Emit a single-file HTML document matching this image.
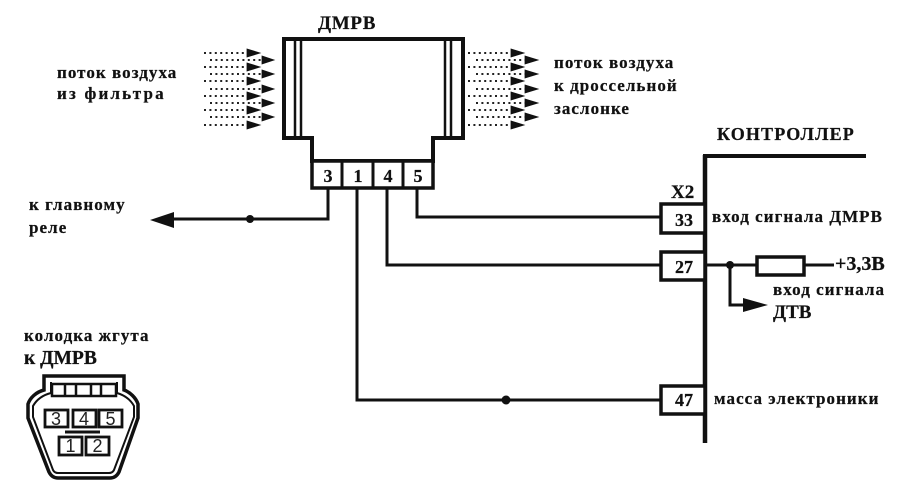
<!DOCTYPE html>
<html><head><meta charset="utf-8"><style>
html,body{margin:0;padding:0;background:#fff;width:902px;height:491px;overflow:hidden}
svg{display:block}
text{font-family:"Liberation Serif",serif;font-weight:bold;fill:#111;stroke:#111;stroke-width:.25}
.l{font-size:17px;letter-spacing:1.05px}
.n{font-size:18px}
.d{stroke:#222;stroke-width:2;stroke-dasharray:2 3.4;fill:none}
.w{stroke:#111;stroke-width:3;fill:none}
.g{font-family:"Liberation Sans",sans-serif;font-weight:normal;font-size:18px;fill:#222;stroke:none}
</style></head><body>
<svg width="902" height="491" viewBox="0 0 902 491" xmlns="http://www.w3.org/2000/svg">
<rect width="902" height="491" fill="#fff"/>
<!-- left flow -->
<g class="d">
<path d="M204 53H248M210 60H262M204 67H248M210 74H262M204 81H248M210 89H262M204 96H248M210 103H262M204 110H248M210 117H262M204 125H248"/>
</g>
<g fill="#111" stroke="#111" stroke-width=".8">
<path d="M247 49L260 53L247 57ZM262 56L274 60L262 64ZM247 63L260 67L247 71ZM262 70L274 74L262 78ZM247 77L260 81L247 85ZM262 85L274 89L262 93ZM247 92L260 96L247 100ZM262 99L274 103L262 107ZM247 106L260 110L247 114ZM262 113L274 117L262 121ZM247 121L260 125L247 129Z"/>
</g>
<!-- right flow -->
<g class="d">
<path d="M468 53H512M476 60H526M468 67H512M476 74H526M468 81H512M476 89H526M468 96H512M476 103H526M468 110H512M476 117H526M468 125H512"/>
</g>
<g fill="#111" stroke="#111" stroke-width=".8">
<path d="M511 49L524 53L511 57ZM525 56L538 60L525 64ZM511 63L524 67L511 71ZM525 70L538 74L525 78ZM511 77L524 81L511 85ZM525 85L538 89L525 93ZM511 92L524 96L511 100ZM525 99L538 103L525 107ZM511 106L524 110L511 114ZM525 113L538 117L525 121ZM511 121L524 125L511 129Z"/>
</g>
<!-- DMRV body -->
<path class="w" d="M284 39H463V138H433V161H312V138H284Z" style="stroke-width:4"/>
<path class="w" style="stroke-width:2.5" d="M295 39V138M301 39V138M445 39V138M451 39V138"/>
<rect x="312" y="161" width="121" height="27" fill="#fff" stroke="#111" stroke-width="3.5"/>
<path class="w" d="M342 161V188M373 161V188M403 161V188"/>
<text x="328" y="182" text-anchor="middle" class="n">3</text>
<text x="358" y="182" text-anchor="middle" class="n">1</text>
<text x="388" y="182" text-anchor="middle" class="n">4</text>
<text x="418" y="182" text-anchor="middle" class="n">5</text>
<text x="318" y="29" style="font-size:19px;letter-spacing:.7px">ДМРВ</text>
<!-- flow labels -->
<text x="57" y="78" class="l">поток воздуха</text>
<text x="57" y="99" class="l" style="letter-spacing:2.2px">из фильтра</text>
<text x="554" y="68" class="l">поток воздуха</text>
<text x="554" y="91" class="l">к дроссельной</text>
<text x="554" y="114" class="l">заслонке</text>
<!-- wires -->
<path class="w" d="M328 188V219H170"/>
<path fill="#111" d="M150 220L174 212V228Z"/>
<circle cx="250" cy="219" r="4" fill="#111"/>
<path class="w" d="M357 188V400H661"/>
<circle cx="506" cy="400" r="4.5" fill="#111"/>
<path class="w" d="M387 188V265H661"/>
<path class="w" d="M417 188V217H661"/>
<text x="29" y="210" class="l">к главному</text>
<text x="29" y="233" class="l">реле</text>
<!-- controller -->
<path d="M705 155V443" stroke="#111" stroke-width="4.500" fill="none"/>
<path d="M703 156H866" stroke="#111" stroke-width="4" fill="none"/>
<text x="717" y="140" style="font-size:18px;letter-spacing:1.15px">КОНТРОЛЛЕР</text>
<text x="671" y="198" style="font-size:19px">Х2</text>
<rect x="661" y="204" width="44" height="29" fill="#fff" stroke="#111" stroke-width="3.5"/>
<rect x="661" y="252" width="44" height="28" fill="#fff" stroke="#111" stroke-width="3.5"/>
<rect x="661" y="386" width="44" height="28" fill="#fff" stroke="#111" stroke-width="3.5"/>
<text x="684" y="226" text-anchor="middle" class="n">33</text>
<text x="684" y="273" text-anchor="middle" class="n">27</text>
<text x="684" y="406" text-anchor="middle" class="n">47</text>
<text x="712" y="222" class="l">вход сигнала ДМРВ</text>
<text x="714" y="404" class="l">масса электроники</text>
<!-- 27 branch -->
<path class="w" d="M705 265H834"/>
<circle cx="730" cy="265" r="4" fill="#111"/>
<rect x="757" y="257" width="47" height="18" fill="#fff" stroke="#111" stroke-width="3.5"/>
<path class="w" d="M730 265V305H748"/>
<path fill="#111" d="M768 305L743 298V312Z"/>
<text x="835" y="270" style="font-size:20px">+3,3В</text>
<text x="773" y="295" class="l">вход сигнала</text>
<text x="773" y="318" style="font-size:19px">ДТВ</text>
<!-- plug -->
<text x="24" y="341" class="l">колодка жгута</text>
<text x="24" y="364" style="font-size:19.500px">к ДМРВ</text>
<path class="w" style="stroke-width:3.5" d="M44 390V376H124V390C130 392 136 398 138 404V418L119 472C117 476 114 478 110 478H58C54 478 51 476 49 472L28 418V404C30 398 36 392 44 390Z"/>
<path fill="none" stroke="#111" stroke-width="2" d="M51 382V393C43 395 37 399 33 406V417L53 470C54 472 56 473 58 473H109C111 473 113 472 114 470L134 417V406C130 399 124 395 117 393V382"/>
<path fill="none" stroke="#111" stroke-width="2.5" d="M52 384H116V396H52ZM65 384V396M76 384V396M91 384V396M101 384V396"/>
<rect x="45" y="410" width="23" height="17" fill="#fff" stroke="#111" stroke-width="2.8"/>
<rect x="73" y="410" width="23" height="17" fill="#fff" stroke="#111" stroke-width="2.8"/>
<rect x="99" y="410" width="23" height="17" fill="#fff" stroke="#111" stroke-width="2.8"/>
<path d="M65 432H100" stroke="#111" stroke-width="3"/>
<rect x="59" y="437" width="23" height="18" fill="#fff" stroke="#111" stroke-width="2.8"/>
<rect x="86" y="437" width="23" height="18" fill="#fff" stroke="#111" stroke-width="2.8"/>
<text x="56" y="425" text-anchor="middle" class="g">3</text>
<text x="84" y="425" text-anchor="middle" class="g">4</text>
<text x="110.500" y="425" text-anchor="middle" class="g">5</text>
<text x="70.500" y="452" text-anchor="middle" class="g">1</text>
<text x="97.500" y="452" text-anchor="middle" class="g">2</text>
</svg>
</body></html>
